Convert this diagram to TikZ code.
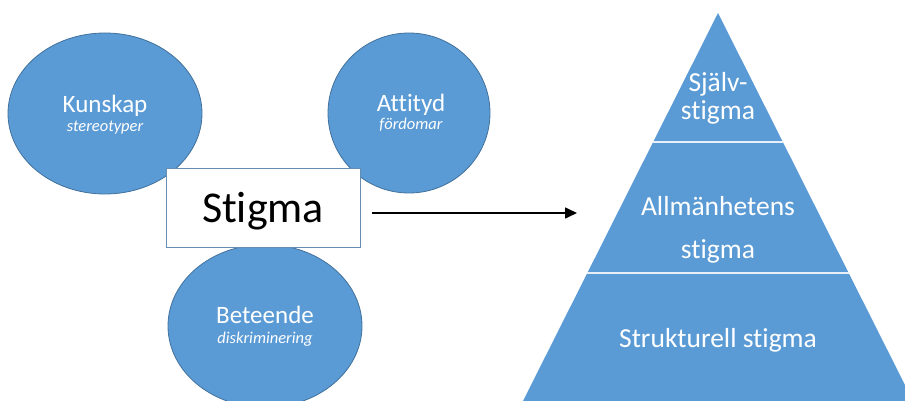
\documentclass[tikz,border=0pt]{standalone}
\usepackage{fontspec}
\setmainfont[RawFeature=-liga]{Carlito}
\usepackage{tikz}
\usetikzlibrary{shapes,arrows.meta}
\definecolor{blu}{HTML}{5B9BD5}
\definecolor{bluline}{HTML}{41719C}
\tikzset{ell/.style={ellipse,draw=bluline,fill=blu,line width=0.8pt,inner sep=0pt},
    head/.style={text=white,font=\fontsize{25}{30}\selectfont,anchor=base,inner sep=0pt},
    sub/.style={text=white,font=\fontsize{16.5}{20}\selectfont\itshape,anchor=base,inner sep=0pt},
    lvl/.style={text=white,font=\fontsize{27.5}{30}\selectfont,anchor=base,inner sep=0pt},
    stigbox/.style={rectangle,draw=bluline!80,fill=white,line width=0.8pt,inner sep=0pt}}

\begin{document}
\begin{tikzpicture}[x=1pt,y=-1pt,>={Triangle[length=12pt,width=11pt]}]
        \clip (0,0) rectangle (905,401);
        \fill[white] (0,0) rectangle (905,401);

        \node[ell,minimum width=194pt,minimum height=161pt] (kun) at (105,113.5) {};
        \node[ell,minimum width=162pt,minimum height=160pt] (att) at (409,113) {};
        \node[ell,minimum width=194pt,minimum height=163pt] (bet) at (265,326) {};
        \node[stigbox,minimum width=194pt,minimum height=79pt] (stig) at (263,207.5) {};

        \node[head] (kunt) at (105,113) {Kunskap};
        \node[sub] (kuns) at (105,132) {stereotyper};
        \node[head] (attt) at (411,112) {Attityd};
        \node[sub] (atts) at (411,130) {fördomar};
        \node[head] (bett) at (265,323) {Beteende};
        \node[sub] (bets) at (265,343) {diskriminering};
        \node[anchor=base,inner sep=0pt,font=\fontsize{44}{50}\selectfont] (stigt) at (263,222) {Stigma};

        % pyramid
        \coordinate (apex) at (718,13);
        \coordinate (bl) at (523,401);
        \coordinate (br) at (913,401);
        \fill[blu] (apex) -- (bl) -- (br) -- cycle;
        \draw[white!85!blu,line width=1.5pt] (653,142) -- (783,142);
        \draw[white!85!blu,line width=1.5pt] (587,273) -- (849,273);

        \node[lvl] (p1a) at (718,92) {Själv-};
        \node[lvl] (p1b) at (718,120) {stigma};
        \node[lvl] (p2a) at (718,215) {Allmänhetens};
        \node[lvl] (p2b) at (718,258) {stigma};
        \node[lvl] (p3) at (718,347) {Strukturell stigma};

        \coordinate (aend) at (577,213);
        \draw [->,line width=1.6pt,shorten <=12pt] (stig.east |- aend) to (aend);
    \end{tikzpicture}
\end{document}
